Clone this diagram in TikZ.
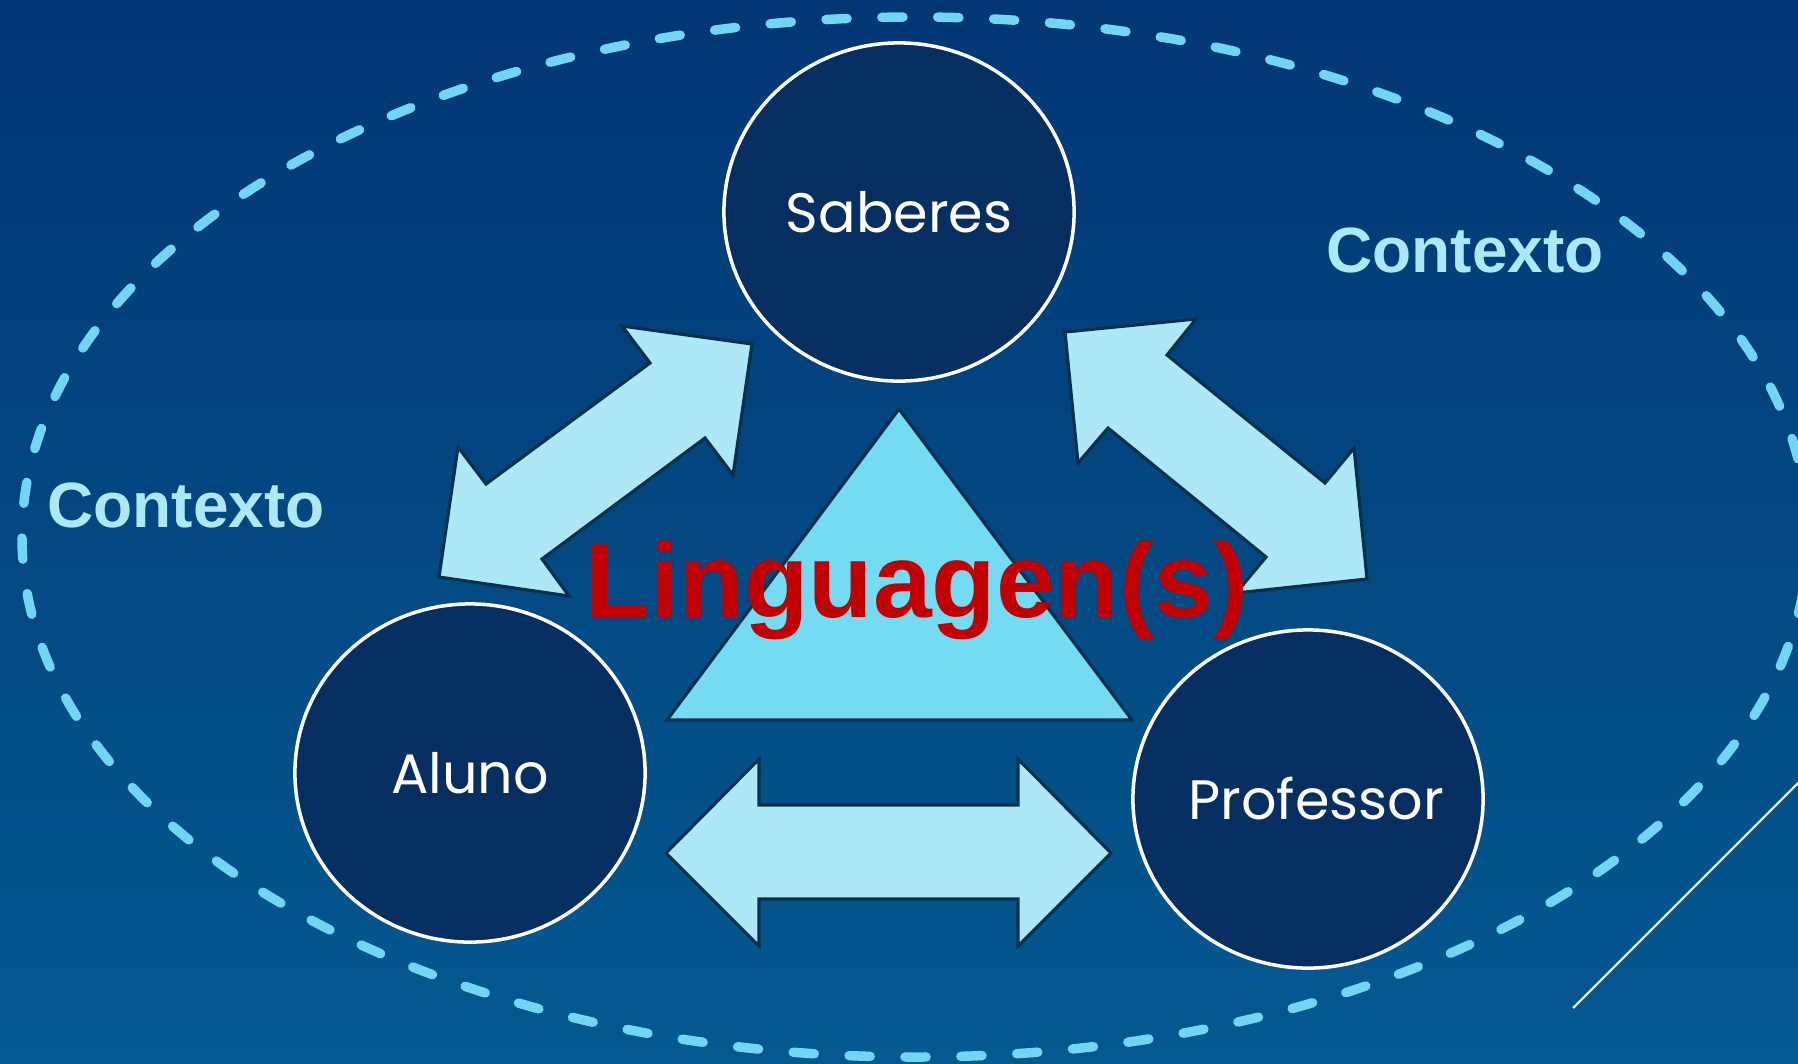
\documentclass[tikz,border=0pt]{standalone}
\usepackage{fontspec}
\usetikzlibrary{shapes.geometric}
\newfontfamily\gothicfont{Poppins}
\newfontfamily\arialfont{Liberation Sans}
\definecolor{bgtop}{RGB}{2,54,116}
\definecolor{bgbot}{RGB}{3,89,144}
\definecolor{circfill}{RGB}{7,46,96}
\definecolor{arrowfill}{RGB}{173,232,247}
\definecolor{trifill}{RGB}{117,219,243}
\definecolor{edge}{RGB}{10,48,78}
\definecolor{dashcol}{RGB}{112,214,243}
\definecolor{linred}{RGB}{192,0,0}
\begin{document}
\begin{tikzpicture}[x=0.01cm,y=-0.01cm]
\tikzstyle{every node}+=[inner sep=0pt]
\tikzstyle{agent}=[ellipse, draw=white, line width=1pt, fill=circfill, minimum width=3.5cm, minimum height=3.38cm]
\tikzstyle{agentlabel}=[text=white, font=\gothicfont\fontsize{15.8}{18}\selectfont]
\tikzstyle{bigarrow}=[fill=arrowfill, draw=edge, line width=0.9pt, line join=miter]
\tikzstyle{ctx}=[text=arrowfill, font=\arialfont\bfseries\fontsize{18.2}{20}\selectfont, anchor=base]
\tikzstyle{ctxline}=[draw=dashcol, line width=2.7pt, line cap=round, dash pattern=on 6pt off 9.9pt]
\useasboundingbox (0,0) rectangle (1798,1063);
\clip (0,0) rectangle (1798,1063);
\shade [top color=bgtop, bottom color=bgbot] (0,0) rectangle (1798,1063);
\draw [ctxline] (915,537) ellipse [x radius=893, y radius=520];
\draw [white, line width=0.6pt] (1573,1008) -- (1850,731);
\draw [fill=trifill, draw=edge, line width=0.9pt] (899,409) -- (1132,720) -- (667,720) -- cycle;
\draw [bigarrow] (752,344) -- (622,326) -- (650,363) -- (486,484) -- (458,447) -- (439,577) -- (569,596) -- (542,559) -- (705,438) -- (733,475) -- cycle;
\draw [bigarrow] (1065,332) -- (1196,319) -- (1167,355) -- (1325,483) -- (1354,448) -- (1367,579) -- (1236,593) -- (1266,557) -- (1108,428) -- (1078,463) -- cycle;
\draw [bigarrow] (666,853) -- (759,759) -- (759,805) -- (1018,805) -- (1018,759) -- (1111,853) -- (1018,946) -- (1018,899) -- (759,899) -- (759,946) -- cycle;
\node [agent] (saberes) at (899,212) {};
\node [agent] (aluno) at (470,773) {};
\node [agent] (professor) at (1308,799) {};
\node [agentlabel] at (saberes) {Saberes};
\node [agentlabel] at (aluno) {Aluno};
\node [agentlabel, xshift=0.08cm] at (professor) {Professor};
\node [ctx] (ctxleft) at (186,527) {Contexto};
\node [ctx] (ctxright) at (1465,272) {Contexto};
\node [anchor=base, text=linred, font=\arialfont\bfseries\fontsize{30}{32}\selectfont] (lang) at (917,617) {Linguagen(s)};
\end{tikzpicture}
\end{document}
